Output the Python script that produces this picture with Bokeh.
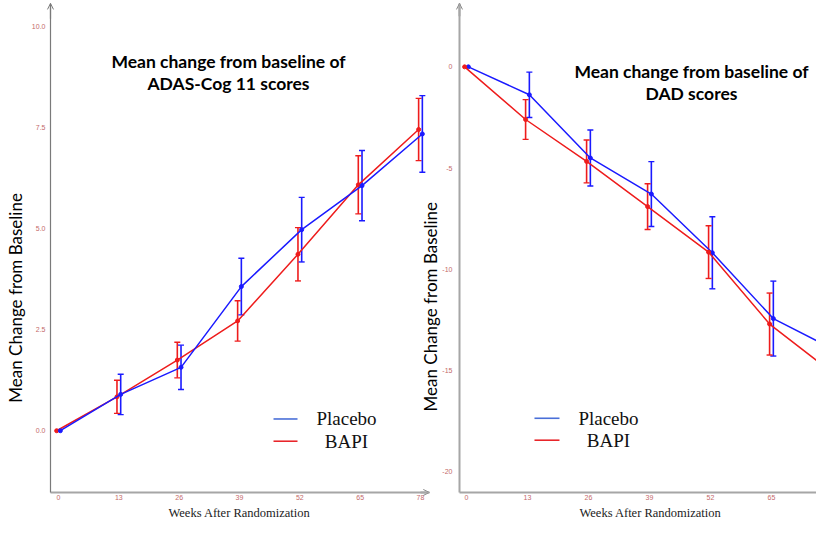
import numpy as np
from bokeh.plotting import figure
from bokeh.models import (Range1d, LinearAxis, FixedTicker, PrintfTickFormatter,
                          Whisker, TeeHead, ColumnDataSource, Arrow, OpenHead)
from bokeh.core.properties import value
from bokeh.embed import file_html
from bokeh.resources import INLINE

# ---------------- data ----------------
weeks = [0, 13, 26, 39, 52, 65, 78]
week_ticks = [0, 13, 26, 39, 52, 65, 78]

adas_placebo = [0.0, 0.90, 1.57, 3.57, 4.98, 6.07, 7.35]
adas_placebo_err = [0.0, 0.50, 0.55, 0.70, 0.80, 0.87, 0.95]
adas_bapi = [0.0, 0.84, 1.75, 2.72, 4.37, 6.09, 7.46]
adas_bapi_err = [0.0, 0.41, 0.44, 0.50, 0.66, 0.72, 0.77]
adas_ticks = [0.0, 2.5, 5.0, 7.5, 10.0]

dad_placebo = [0.0, -1.38, -4.50, -6.28, -9.18, -12.43, -13.97]
dad_placebo_err = [0.0, 1.12, 1.38, 1.60, 1.78, 1.85, 1.95]
dad_bapi = [0.0, -2.60, -4.67, -6.90, -9.15, -12.70, -15.03]
dad_bapi_err = [0.0, 0.98, 1.06, 1.13, 1.30, 1.53, 1.62]
dad_ticks = [0, -5, -10, -15, -20]

series_names = ["Placebo", "BAPI"]
title_left = ["Mean change from baseline of", "ADAS-Cog 11 scores"]
title_right = ["Mean change from baseline of", "DAD scores"]
y_label = "Mean Change from Baseline"
x_label = "Weeks After Randomization"

# ---------------- style ----------------
BLUE = "#1a1aff"
RED = "#ee1c1c"
LEG_BLUE = "#4a6fd8"
LEG_RED = "#e8252a"
TICK_COLOR = "#c46a6a"
AXIS_GRAY = "#a6a6a6"
DODGE = 0.4

W, H = 816, 521
p = figure(width=W, height=H, output_backend="svg", toolbar_location=None,
           x_axis_type=None, y_axis_type=None,
           x_range=Range1d(-12.497, 163.33), y_range=Range1d(-2.248, 10.655),
           min_border=0, min_border_left=0, min_border_right=0,
           min_border_top=0, min_border_bottom=0)
p.extra_x_ranges = {"rx": Range1d(-99.32, 74.6)}
p.extra_y_ranges = {"ry": Range1d(-22.45, 3.276)}
p.grid.visible = False
p.outline_line_color = None
p.background_fill_color = "white"
p.border_fill_color = "white"


def style_axis(ax, color, width, standoff):
    ax.axis_line_color = color
    ax.axis_line_width = width
    ax.major_tick_in = 0
    ax.major_tick_out = 0
    ax.minor_tick_in = 0
    ax.minor_tick_out = 0
    ax.major_label_text_color = TICK_COLOR
    ax.major_label_text_font_size = "7px"
    ax.major_label_text_font = "Liberation Sans"
    ax.major_label_standoff = standoff


# left panel axes
ly = LinearAxis(fixed_location=-1.724, bounds=(-1.529, 10.583),
                ticker=FixedTicker(ticks=adas_ticks),
                formatter=PrintfTickFormatter(format="%.1f"))
style_axis(ly, "#7a7a7a", 1.2, 5)
p.add_layout(ly, "left")
lx = LinearAxis(fixed_location=-1.529, bounds=(-1.724, 79.9),
                ticker=FixedTicker(ticks=week_ticks),
                formatter=PrintfTickFormatter(format="%d"))
style_axis(lx, AXIS_GRAY, 2, 3)
p.add_layout(lx, "below")

# right panel axes
ry = LinearAxis(fixed_location=-1.492, bounds=(-21.016, 3.131),
                x_range_name="rx", y_range_name="ry",
                ticker=FixedTicker(ticks=dad_ticks),
                formatter=PrintfTickFormatter(format="%d"))
style_axis(ry, AXIS_GRAY, 2, 7)
p.add_layout(ry, "left")
rx = LinearAxis(fixed_location=-21.016, bounds=(-1.492, 90),
                x_range_name="rx", y_range_name="ry",
                ticker=FixedTicker(ticks=week_ticks),
                formatter=PrintfTickFormatter(format="%d"))
style_axis(rx, AXIS_GRAY, 2, 3)
p.add_layout(rx, "below")

# axis arrows
p.add_layout(Arrow(x_start=-1.724, y_start=10.2, x_end=-1.724, y_end=10.583,
                   line_color="#7a7a7a", line_width=1.2,
                   end=OpenHead(size=6, line_color="#7a7a7a", line_width=1)))
p.add_layout(Arrow(x_start=78, y_start=-1.529, x_end=79.9, y_end=-1.529,
                   line_color=AXIS_GRAY, line_width=2,
                   end=OpenHead(size=6, line_color="#888888", line_width=1)))
p.add_layout(Arrow(x_start=-1.492, y_start=2.5, x_end=-1.492, y_end=3.131,
                   x_range_name="rx", y_range_name="ry",
                   line_color=AXIS_GRAY, line_width=2,
                   end=OpenHead(size=6, line_color="#888888", line_width=1)))


def draw_series(xs, ys, errs, color, dodge, xr="default", yr="default"):
    x = np.array(xs, dtype=float) + dodge
    y = np.array(ys, dtype=float)
    e = np.array(errs, dtype=float)
    kw = {}
    if xr != "default":
        kw = dict(x_range_name=xr, y_range_name=yr)
    p.line(x, y, line_color=color, line_width=1.5, **kw)
    p.scatter(x, y, size=4, fill_color=color, line_color=color, **kw)
    m = e > 0
    src = ColumnDataSource(dict(base=x[m], upper=(y + e)[m], lower=(y - e)[m]))
    wk = Whisker(source=src, base="base", upper="upper", lower="lower",
                 dimension="height", line_color=color, line_width=1.6,
                 upper_head=TeeHead(size=6, line_color=color, line_width=1.4),
                 lower_head=TeeHead(size=6, line_color=color, line_width=1.4))
    if xr != "default":
        wk.x_range_name = xr
        wk.y_range_name = yr
    p.add_layout(wk)


draw_series(weeks, adas_bapi, adas_bapi_err, RED, -DODGE)
draw_series(weeks, adas_placebo, adas_placebo_err, BLUE, DODGE)
draw_series(weeks, dad_placebo, dad_placebo_err, BLUE, DODGE, "rx", "ry")
draw_series(weeks, dad_bapi, dad_bapi_err, RED, -DODGE, "rx", "ry")

# titles
title_font = value("Lato")
p.text(x=[36.63, 36.63], y=[9.151, 8.592], text=title_left,
       text_font=title_font, text_font_size="17.5px", text_font_style="bold",
       text_align="center", text_baseline="middle", text_color="black")
p.text(x=[47.95, 47.95], y=[-0.208, -1.321], text=title_right,
       text_font=title_font, text_font_size="17.5px", text_font_style="bold",
       text_align="center", text_baseline="middle", text_color="black",
       x_range_name="rx", y_range_name="ry")

# y-axis labels
p.text(x=[-9.158], y=[3.290], text=[y_label], angle=np.pi / 2,
       text_font=value("Lato"), text_font_size="17px",
       text_align="center", text_baseline="middle", text_color="black")
p.text(x=[-7.673], y=[-11.844], text=[y_label], angle=np.pi / 2,
       text_font=value("Lato"), text_font_size="17px",
       text_align="center", text_baseline="middle", text_color="black",
       x_range_name="rx", y_range_name="ry")

# x-axis labels
serif = value("Liberation Serif")
p.text(x=[39.0], y=[-2.038], text=[x_label], text_font=serif,
       text_font_size="12.5px", text_align="center", text_baseline="middle",
       text_color="#222222")
p.text(x=[39.22], y=[-22.031], text=[x_label], text_font=serif,
       text_font_size="12.5px", text_align="center", text_baseline="middle",
       text_color="#222222", x_range_name="rx", y_range_name="ry")

# legends
p.segment(x0=[46.33, 46.33], y0=[0.291, -0.26], x1=[51.5, 51.5], y1=[0.291, -0.26],
          line_color=[LEG_BLUE, LEG_RED], line_width=1.6)
p.text(x=[62.06, 62.06], y=[0.291, -0.26], text=series_names, text_font=serif,
       text_font_size="19px", text_align="center", text_baseline="middle",
       text_color="#111111")
p.segment(x0=[14.49, 14.49], y0=[-17.353, -18.436], x1=[19.82, 19.82],
          y1=[-17.353, -18.436], line_color=[LEG_BLUE, LEG_RED], line_width=1.6,
          x_range_name="rx", y_range_name="ry")
p.text(x=[30.26, 30.26], y=[-17.353, -18.436], text=series_names, text_font=serif,
       text_font_size="19px", text_align="center", text_baseline="middle",
       text_color="#111111", x_range_name="rx", y_range_name="ry")

open("out.html", "w").write(file_html(p, INLINE))
